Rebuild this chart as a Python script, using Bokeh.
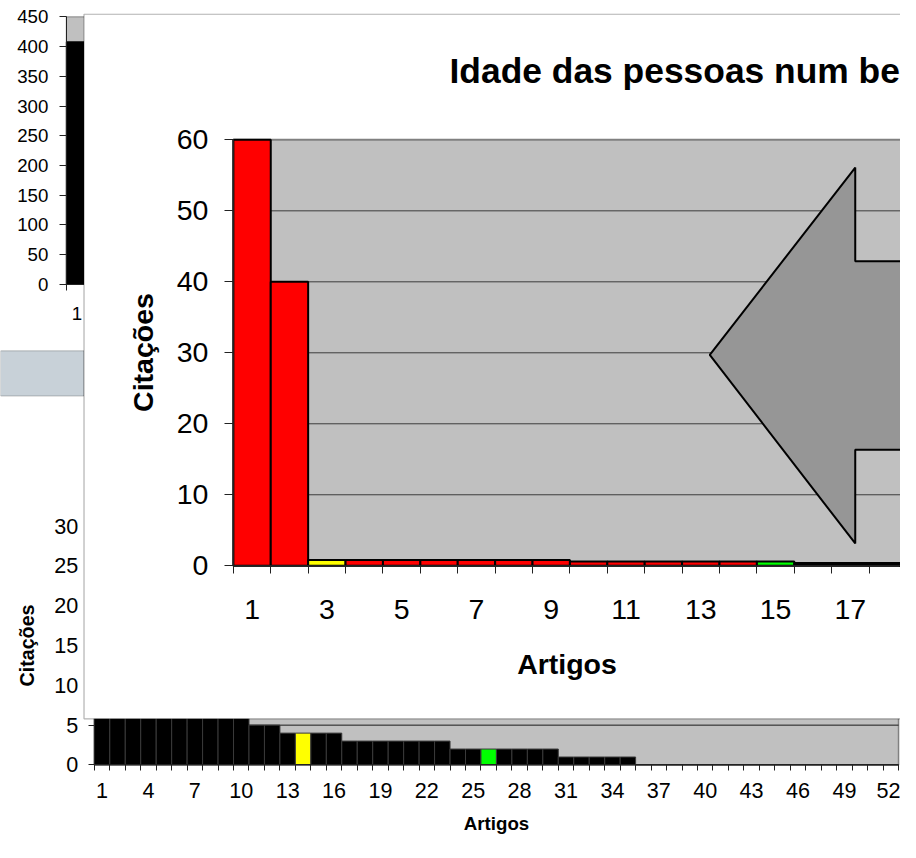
from bokeh.plotting import figure
from bokeh.models import Range1d, LinearAxis, FixedTicker, BoxAnnotation, Label
from bokeh.embed import file_html
from bokeh.resources import INLINE

# ---------------- data ----------------
# chart at the back, top-left (mostly hidden)
a_categories = [1]
a_values = [408]
a_y_ticks = [0, 50, 100, 150, 200, 250, 300, 350, 400, 450]

# lower chart
b_categories = list(range(1, 53))
b_values = [30, 20, 12, 10, 9, 8, 7, 7, 6, 6,
            5, 5, 4, 4, 4, 4, 3, 3, 3, 3,
            3, 3, 3, 2, 2, 2, 2, 2, 2, 2,
            1, 1, 1, 1, 1, 0, 0, 0, 0, 0,
            0, 0, 0, 0, 0, 0, 0, 0, 0, 0, 0, 0]
b_x_labels = [1, 4, 7, 10, 13, 16, 19, 22, 25, 28, 31, 34, 37, 40, 43, 46, 49, 52]
b_y_ticks = [0, 5, 10, 15, 20, 25, 30]
b_yellow_bar = 14
b_green_bar = 26

# front chart
m_categories = list(range(1, 31))
m_values = [60, 40, 0.8, 0.8, 0.8, 0.8, 0.8, 0.8, 0.8,
            0.6, 0.6, 0.6, 0.6, 0.6, 0.6,
            0.4, 0.4, 0.4, 0.4, 0.4, 0.4, 0.4, 0.4, 0.4, 0.4,
            0.4, 0.4, 0.4, 0.4, 0.4]
m_x_labels = [1, 3, 5, 7, 9, 11, 13, 15, 17, 19, 21, 23, 25, 27, 29]
m_y_ticks = [0, 10, 20, 30, 40, 50, 60]
m_yellow_bar = 3
m_green_bar = 15
m_black_from = 16
m_title = "Idade das pessoas num be"

# arrow shape (in front-chart data units)
arrow_x = [13.24, 17.13, 17.13, 19.5, 19.5, 17.13, 17.13]
arrow_y = [29.7, 56.1, 42.9, 42.9, 16.35, 16.35, 3.14]

# ---------------- layout ----------------
W, H = 900, 842            # canvas size
RW, RH = 916, 858          # layout units (reference pixels), mapped onto the canvas
K = W / RW                 # pixel-size scale
FONT = "Liberation Sans"


def px(v):
    return round(v * K, 1)


def xr(L, R, d0, d1):
    s = (d1 - d0) / (R - L)
    return Range1d(d0 + (0 - L) * s, d0 + (RW - L) * s)


def yr(T, B, d_top, d_bot):
    s = (d_top - d_bot) / (B - T)
    return Range1d(d_bot - (RH - B) * s, d_bot + B * s)


p = figure(width=W, height=H, x_range=Range1d(0, RW), y_range=Range1d(RH, 0),
           x_axis_type=None, y_axis_type=None, min_border=0, toolbar_location=None,
           output_backend="svg", outline_line_color=None,
           background_fill_color="white", border_fill_color="white")

na, nb, nm = len(a_categories), len(b_categories), len(m_categories)
p.extra_x_ranges = {
    "xa": xr(67, 88.5, 0.5, na + 0.5),
    "xb": xr(95.5, 914, 0.5, nb + 0.5),
    "xm": xr(237, 237 + nm * 38.06, 0.5, nm + 0.5),
}
p.extra_y_ranges = {
    "ya": yr(16.7, 289.3, a_y_ticks[-1], 0),
    "yb": yr(535.5, 779, b_y_ticks[-1], 0),
    "ym": yr(142, 576, m_y_ticks[-1], 0),
}


def add_axis(side, xn, yn, loc, bounds, ticks, minor, size, tick_out, standoff,
             label=None, label_size=None, label_standoff=5, level="guide"):
    ax = LinearAxis(x_range_name=xn, y_range_name=yn, fixed_location=loc, bounds=bounds,
                    ticker=FixedTicker(ticks=ticks, minor_ticks=minor), level=level)
    ax.axis_line_color = "#222222"
    ax.axis_line_width = 1
    if minor:
        ax.major_tick_line_color = None
        ax.minor_tick_line_color = "#222222"
        ax.minor_tick_in = 0
        ax.minor_tick_out = round(px(tick_out))
    else:
        ax.major_tick_line_color = "#222222"
        ax.minor_tick_line_color = None
    ax.major_tick_in = 0
    ax.major_tick_out = round(px(tick_out))
    ax.major_label_standoff = round(px(standoff))
    ax.major_label_text_font = FONT
    ax.major_label_text_font_size = f"{px(size)}px"
    ax.major_label_text_color = "black"
    if label:
        ax.axis_label = label
        ax.axis_label_text_font = FONT
        ax.axis_label_text_font_style = "bold"
        ax.axis_label_text_font_size = f"{px(label_size)}px"
        ax.axis_label_text_color = "black"
        ax.axis_label_standoff = round(px(label_standoff))
    p.add_layout(ax, side)
    return ax


# ---------------- chart A (back) ----------------
p.quad(left=a_categories[0] - 0.5, right=a_categories[-1] + 0.5, bottom=0, top=a_y_ticks[-1],
       x_range_name="xa", y_range_name="ya", fill_color="#c0c0c0", line_color="#808080",
       level="image")
p.vbar(x=a_categories, top=a_values, width=1, x_range_name="xa", y_range_name="ya",
       fill_color="black", line_color="black", level="image")
add_axis("left", "xa", "ya", a_categories[0] - 0.5, (0, a_y_ticks[-1]), a_y_ticks, [],
         19, 7, 11, level="underlay")
add_axis("below", "xa", "ya", 0, (a_categories[0] - 0.5, a_categories[-1] + 0.5),
         a_categories, [c - 0.5 for c in a_categories] + [a_categories[-1] + 0.5],
         19, 6, 17, level="underlay")

# band
p.add_layout(BoxAnnotation(left=0, right=85, top=357, bottom=403, fill_color="#c8d1d8",
                           fill_alpha=1, line_color="#3a3a3a", line_width=1, level="underlay"))

# ---------------- chart B (lower) ----------------
p.quad(left=b_categories[0] - 0.5, right=b_categories[-1] + 0.5, bottom=0, top=b_y_ticks[-1],
       x_range_name="xb", y_range_name="yb", fill_color="#c0c0c0", line_color="#808080",
       line_width=1.5, level="image")
p.segment(x0=[b_categories[0] - 0.5] * (len(b_y_ticks) - 1), x1=[b_categories[-1] + 0.5] * (len(b_y_ticks) - 1),
          y0=b_y_ticks[1:], y1=b_y_ticks[1:], x_range_name="xb", y_range_name="yb",
          line_color="#1a1a1a", line_width=1, level="image")
b_colors = ["#ffff00" if c == b_yellow_bar else "#00ff00" if c == b_green_bar else "black"
            for c in b_categories]
p.vbar(x=b_categories, top=b_values, width=1, x_range_name="xb", y_range_name="yb",
       fill_color=b_colors, line_color="#3a3a3a", line_width=1, level="image")
add_axis("left", "xb", "yb", b_categories[0] - 0.5, (0, b_y_ticks[-1]), b_y_ticks, [],
         22, 6, 10, label="Citações", label_size=20, label_standoff=13, level="underlay")
add_axis("below", "xb", "yb", 0, (b_categories[0] - 0.5, b_categories[-1] + 0.5),
         b_x_labels, [c - 0.5 for c in b_categories] + [b_categories[-1] + 0.5],
         22, 6, 12, label="Artigos", label_size=19, label_standoff=12, level="underlay")

# ---------------- chart M (front) ----------------
p.add_layout(BoxAnnotation(left=85, right=960, top=14, bottom=732, fill_color="white",
                           fill_alpha=1, line_color="black", line_width=1.2, level="glyph"))
p.quad(left=m_categories[0] - 0.5, right=m_categories[-1] + 0.5, bottom=0, top=m_y_ticks[-1],
       x_range_name="xm", y_range_name="ym", fill_color="#c0c0c0", line_color="#808080",
       line_width=2, level="guide")
p.segment(x0=[m_categories[0] - 0.5] * (len(m_y_ticks) - 2), x1=[m_categories[-1] + 0.5] * (len(m_y_ticks) - 2),
          y0=m_y_ticks[1:-1], y1=m_y_ticks[1:-1], x_range_name="xm", y_range_name="ym",
          line_color="#3c3c3c", line_width=1, level="guide")
m_colors = ["#ffff00" if c == m_yellow_bar else "#00ff00" if c == m_green_bar
            else "black" if c >= m_black_from else "#ff0000" for c in m_categories]
p.vbar(x=m_categories, top=m_values, width=1, x_range_name="xm", y_range_name="ym",
       fill_color=m_colors, line_color="black", line_width=2, level="guide")
p.patch(x=arrow_x, y=arrow_y, x_range_name="xm", y_range_name="ym", fill_color="#969696",
        line_color="black", line_width=2, level="guide")
add_axis("left", "xm", "ym", m_categories[0] - 0.5, (0, m_y_ticks[-1]), m_y_ticks, [],
         29, 9, 16, label="Citações", label_size=29, label_standoff=15)
add_axis("below", "xm", "ym", 0, (m_categories[0] - 0.5, m_categories[-1] + 0.5),
         m_x_labels, [c - 0.5 for c in m_categories] + [m_categories[-1] + 0.5],
         29, 8, 26, label="Artigos", label_size=29, label_standoff=26)

p.add_layout(Label(x=457, y=72, text=m_title, text_font=FONT, text_font_style="bold",
                   text_font_size=f"{px(36)}px", text_align="left", text_baseline="alphabetic",
                   text_color="black"))

open("out.html", "w").write(file_html(p, INLINE))
